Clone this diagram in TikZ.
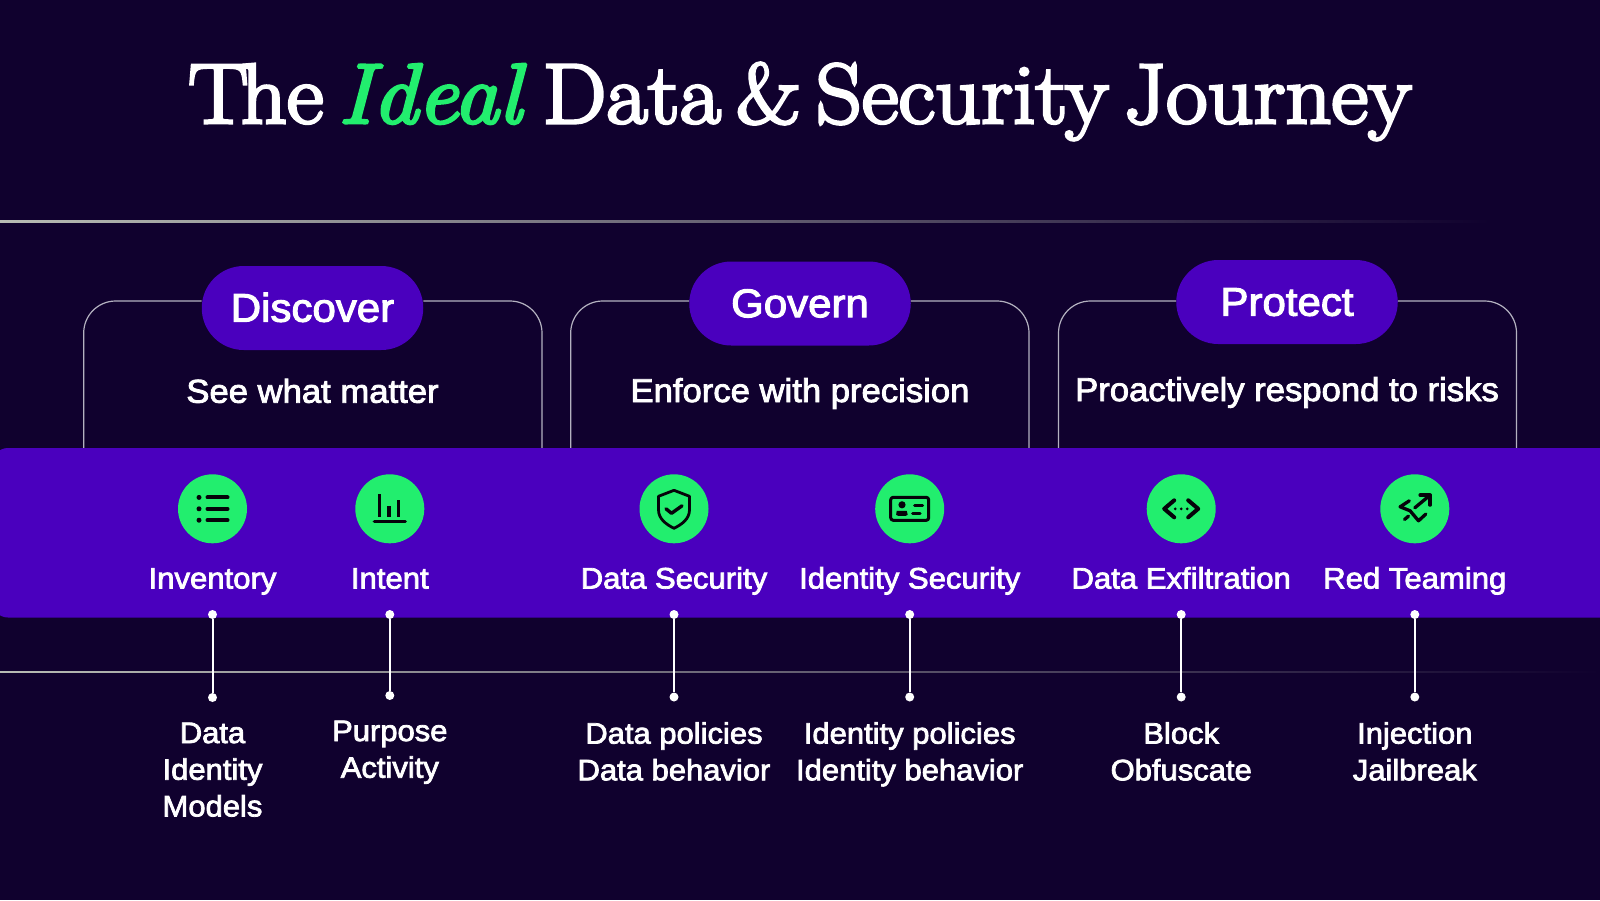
\documentclass[tikz,border=0pt]{standalone}
\usepackage{fontspec}
\setmainfont{Liberation Sans}
\newfontfamily\uifont[FakeBold=2.6,FakeStretch=1.05]{Liberation Sans}
\newfontfamily\titlefont[FakeBold=3.6,FakeStretch=1.06,WordSpace=0.55]{Latin Modern Roman}
\usetikzlibrary{shapes.misc,calc}
\definecolor{bgc}{HTML}{10012E}
\definecolor{bandc}{HTML}{4A00BE}
\definecolor{greenc}{HTML}{22EE6E}
\definecolor{framec}{HTML}{B4B2C0}
\definecolor{rulec}{HTML}{B8BCB4}
\definecolor{inkc}{HTML}{06040A}
\tikzset{
  x=1pt,y=-1pt,
  pillbox/.style={draw=none,fill=bandc,rounded rectangle,minimum width=221.5pt,minimum height=84pt,inner sep=0pt},
  pilltext/.style={anchor=base,text=white,inner sep=0pt,font=\uifont\fontsize{40}{44}\selectfont},
  subtitlebox/.style={anchor=base,text=white,inner sep=0pt,font=\uifont\fontsize{33}{38}\selectfont},
  framerule/.style={draw=framec,line width=1.2pt},
  iconbox/.style={circle,fill=greenc,minimum size=69pt,inner sep=0pt},
  itemlabel/.style={anchor=base,text=white,inner sep=0pt,font=\uifont\fontsize{29.6}{34}\selectfont},
  sublabel/.style={anchor=north,text=white,inner sep=0pt,align=center,font=\uifont\fontsize{29.5}{36.7}\selectfont},
  enddot/.style={circle,fill=white,minimum size=9pt,inner sep=0pt},
  linkline/.style={draw=white,line width=2pt},
  iconline/.style={draw=inkc,line width=3.6pt,line cap=round,line join=round},
  iconthin/.style={draw=inkc,line width=2.6pt,line cap=round,line join=round},
}
\begin{document}
\begin{tikzpicture}
\useasboundingbox (0,0) rectangle (1600,900);
\fill[bgc] (0,0) rectangle (1600,900);
% fading rules
\shade[left color=rulec,right color=bgc] (0,220.8) rectangle (1490,222);
\shade[left color=rulec,right color=bgc] (0,671) rectangle (1600,672.4);
% title
\node[anchor=base,text=white,inner sep=0pt,font=\titlefont\fontsize{85}{90}\selectfont] (title) at (800,123)
  {T\kern-0.09em he {\color{greenc}\itshape Ideal}\kern0.08em{} Data \& Security Journey};
% frames
\coordinate (f1b) at (83.7,448);  \coordinate (f1c) at (542,448);
\coordinate (f2b) at (570.7,448); \coordinate (f2c) at (1029,448);
\coordinate (f3b) at (1058.5,448);\coordinate (f3c) at (1516.5,448);
\coordinate (ft) at (0,301);
\node[pillbox] (p1) at (312.5,308) {};
\node[pillbox] (p2) at (800,303.5) {};
\node[pillbox] (p3) at (1287,302) {};
\node[pilltext] (pt1) at (312.5,321.7) {Discover};
\node[pilltext] (pt2) at (800,317.2) {Govern};
\node[pilltext] (pt3) at (1287,315.7) {Protect};
\draw[framerule,rounded corners=32pt] (p1.west |- ft) -- (f1b |- ft) -- (f1b);
\draw[framerule,rounded corners=32pt] (p1.east |- ft) -- (f1c |- ft) -- (f1c);
\draw[framerule,rounded corners=32pt] (p2.west |- ft) -- (f2b |- ft) -- (f2b);
\draw[framerule,rounded corners=32pt] (p2.east |- ft) -- (f2c |- ft) -- (f2c);
\draw[framerule,rounded corners=32pt] (p3.west |- ft) -- (f3b |- ft) -- (f3b);
\draw[framerule,rounded corners=32pt] (p3.east |- ft) -- (f3c |- ft) -- (f3c);
\node[subtitlebox] (s1) at (312.5,402.7) {See what matter};
\node[subtitlebox] (s2) at (800,402) {Enforce with precision};
\node[subtitlebox] (s3) at (1287,401) {Proactively respond to risks};
% band
\fill[bandc,rounded corners=16pt] (-8,448) rectangle (1660,617.5);
% icons
\node[iconbox] (i1) at (212.5,508.8) {};
\node[iconbox] (i2) at (389.8,508.8) {};
\node[iconbox] (i3) at (674,508.8) {};
\node[iconbox] (i4) at (909.7,508.8) {};
\node[iconbox] (i5) at (1181.2,508.8) {};
\node[iconbox] (i6) at (1414.8,508.8) {};
\begin{scope}[shift={(i1.center)}]
  \foreach \yy in {-11.4,0,11.4}{
    \fill[inkc] (-13.5,\yy) circle (2.5);
    \draw[iconline,line width=4pt] (-5,\yy) -- (15,\yy);}
\end{scope}
\begin{scope}[shift={(i2.center)}]
  \draw[draw=inkc,line width=3.2pt,line cap=round] (-15.5,13) -- (15.5,13);
  \draw[draw=inkc,line width=3.2pt] (-10,-14.5) -- (-10,8);
  \draw[draw=inkc,line width=3.6pt] (-1,-2.7) -- (-1,8);
  \draw[draw=inkc,line width=3.4pt] (8.7,-8.7) -- (8.7,8);
\end{scope}
\begin{scope}[shift={(i3.center)}]
  \draw[iconthin,line width=2.8pt] (0,-18.5) -- (15.5,-12.5) -- (15.5,1) .. controls (15.5,10) and (8,15.5) .. (0,19.5) .. controls (-8,15.5) and (-15.5,10) .. (-15.5,1) -- (-15.5,-12.5) -- cycle;
  \draw[iconline,line width=3.4pt] (-8,0) -- (-2.5,4.5) -- (8,-3);
\end{scope}
\begin{scope}[shift={(i4.center)}]
  \draw[iconthin,line width=3pt,rounded corners=2.5pt] (-19,-11.5) rectangle (19,11.5);
  \fill[inkc] (-7.7,-4) circle (3.6);
  \fill[inkc,rounded corners=2pt] (-13.5,7) -- (-13.5,4) .. controls (-13,2) and (-3,2) .. (-2,4) -- (-2,7) -- cycle;
  \draw[iconthin,line width=3pt] (5,-3.3) -- (13,-3.3);
  \draw[iconthin,line width=3pt] (3,4.3) -- (10.5,4.3);
\end{scope}
\begin{scope}[shift={(i5.center)}]
  \draw[iconline,line width=4pt] (-7,-8.5) -- (-17,0) -- (-7,8.5);
  \draw[iconline,line width=4pt] (7,-8.5) -- (17,0) -- (7,8.5);
  \foreach \xx in {-6,0,6}{\fill[inkc] (\xx,0) circle (1.5);}
\end{scope}
\begin{scope}[shift={(i6.center)}]
  \draw[iconline,line width=3.3pt] (-5.5,-8) -- (-14.7,-2) -- (-4.7,2) -- (3.7,12) -- (11,5.3);
  \draw[iconline,line width=3.3pt] (0,-1) -- (15.3,-13.7);
  \draw[iconline,line width=3.3pt] (5.3,-13.7) -- (15.3,-13.7) -- (15.3,-3.7);
  \draw[iconline,line width=3.3pt] (-10.3,10.7) -- (-6.3,7.3);
\end{scope}
% item labels
\foreach \n/\xx/\t in {l1/212.5/Inventory,l2/389.8/Intent,l3/674/Data Security,l4/909.7/Identity Security,l5/1181.2/Data Exfiltration,l6/1414.8/Red Teaming}{
  \node[itemlabel] (\n) at (\xx,588.5) {\t};}
% dots and connectors
\node[enddot] (a1) at (212.5,614.5) {}; \node[enddot] (b1) at (212.5,697.5) {};
\node[enddot] (a2) at (389.8,614.5) {}; \node[enddot] (b2) at (389.8,695.5) {};
\node[enddot] (a3) at (674,614.5) {};   \node[enddot] (b3) at (674,697) {};
\node[enddot] (a4) at (909.7,614.5) {}; \node[enddot] (b4) at (909.7,697) {};
\node[enddot] (a5) at (1181.2,614.5) {};\node[enddot] (b5) at (1181.2,697) {};
\node[enddot] (a6) at (1414.8,614.5) {};\node[enddot] (b6) at (1414.8,697) {};
\foreach \i in {1,...,6}{\draw[linkline] (a\i) -- (b\i);}
% sub labels
\node[sublabel] (d1) at (212.5,722.5) {Data\\Identity\\Models};
\node[sublabel] (d2) at (389.8,720.5) {Purpose\\Activity};
\node[sublabel] (d3) at (674,722) {Data policies\\Data behavior};
\node[sublabel] (d4) at (909.7,722) {Identity policies\\Identity behavior};
\node[sublabel] (d5) at (1181.2,722) {Block\\Obfuscate};
\node[sublabel] (d6) at (1414.8,722) {Injection\\Jailbreak};
\end{tikzpicture}
\end{document}
